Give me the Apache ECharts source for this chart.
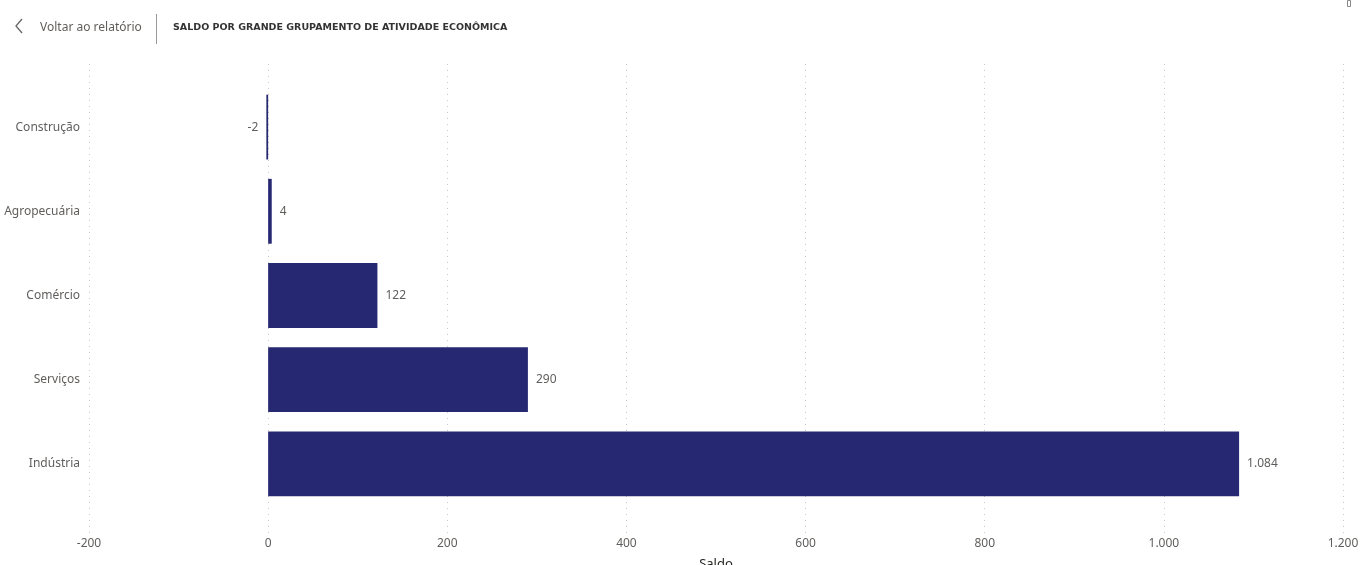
<!DOCTYPE html>
<html>
<head>
<meta charset="utf-8">
<title>Saldo por grande grupamento de atividade econômica</title>
<script src="https://cdn.jsdelivr.net/npm/echarts@6/dist/echarts.min.js"></script>
<style>
	html, body { margin:0; padding:0; background:#fff; }
	#main { width:1363px; height:565px; }
</style>
</head>
<body>
<div id="main"></div>
<script>
var categorias = ['Construção', 'Agropecuária', 'Comércio', 'Serviços', 'Indústria'];
var saldo = [-2, 4, 122, 290, 1084];
var eixoMin = -200;
var eixoMax = 1200;
var eixoPasso = 200;

var corBarra = '#262872';
var corTexto = '#605E5C';
var fonte = '"Noto Sans", "Open Sans", sans-serif';

// formata numero com ponto de milhar
function fmt(v){
	var s = String(Math.abs(v));
	s = s.replace(/\B(?=(\d{3})+(?!\d))/g, '.');
	return (v < 0 ? '-' : '') + s;
}

function montaDados(){
	var d = [];
	for(var i = 0; i < saldo.length; i++){
		d.push({
			value : saldo[i],
			label : { position : saldo[i] < 0 ? 'left' : 'right' }
		});
	}
	return d;
}

var myChart = echarts.init(document.getElementById('main'));
var option = {
	animation : false,
	textStyle : { fontFamily : fonte },
	title : {
		text : 'SALDO POR GRANDE GRUPAMENTO DE ATIVIDADE ECONÔMICA',
		left : 168,
		top : 18,
		textStyle : {
			fontFamily : '"DejaVu Sans", sans-serif',
			fontSize : 9.5,
			fontWeight : 'bold',
			color : '#333333'
		}
	},
	graphic : [
		{
			type : 'polyline',
			shape : { points : [[22, 19], [16, 26], [22, 33]] },
			style : { stroke : '#666666', lineWidth : 1.3, fill : null }
		},
		{
			type : 'text',
			left : 40,
			top : 22,
			style : { text : 'Voltar ao relatório', fill : corTexto, font : '12px ' + fonte }
		},
		{
			type : 'line',
			shape : { x1 : 156.5, y1 : 14, x2 : 156.5, y2 : 44 },
			style : { stroke : '#999999', lineWidth : 1 }
		},
		{
			type : 'rect',
			shape : { x : 1347.5, y : 0.5, width : 3, height : 6 },
			style : { stroke : '#888888', lineWidth : 1, fill : null }
		}
	],
	grid : [
		{ left : 89, right : 20, top : 64, bottom : 32, containLabel : false, outerBoundsMode : 'none' },
		{ left : 89, right : 20, top : 85, bottom : 59, containLabel : false, outerBoundsMode : 'none' }
	],
	xAxis : [
		{
			gridIndex : 0,
			type : 'value',
			min : eixoMin,
			max : eixoMax,
			interval : eixoPasso,
			name : 'Saldo',
			nameLocation : 'middle',
			nameGap : 25,
			nameTextStyle : { color : '#252423', fontSize : 13, fontFamily : fonte },
			axisLine : { show : false },
			axisTick : { show : false },
			axisLabel : {
				color : corTexto,
				fontSize : 12,
				margin : 5,
				formatter : fmt
			},
			splitLine : {
				show : true,
				lineStyle : { color : '#C8C8C8', type : [1, 5], width : 1 }
			}
		},
		{
			gridIndex : 1,
			type : 'value',
			min : eixoMin,
			max : eixoMax,
			interval : eixoPasso,
			show : false
		}
	],
	yAxis : [
		{
			gridIndex : 0,
			type : 'value',
			show : false
		},
		{
			gridIndex : 1,
			type : 'category',
			inverse : true,
			data : categorias,
			axisLine : { show : false, onZero : false },
			axisTick : { show : false },
			splitLine : { show : false },
			axisLabel : { color : corTexto, fontSize : 12, margin : 9 }
		}
	],
	series : [
		{
			name : 'Saldo',
			type : 'bar',
			xAxisIndex : 1,
			yAxisIndex : 1,
			data : montaDados(),
			barCategoryGap : '23%',
			itemStyle : { color : corBarra },
			label : {
				show : true,
				distance : 8,
				color : corTexto,
				fontSize : 12,
				formatter : function(p){ return fmt(p.value); }
			}
		}
	]
};
myChart.setOption(option);
</script>
</body>
</html>
